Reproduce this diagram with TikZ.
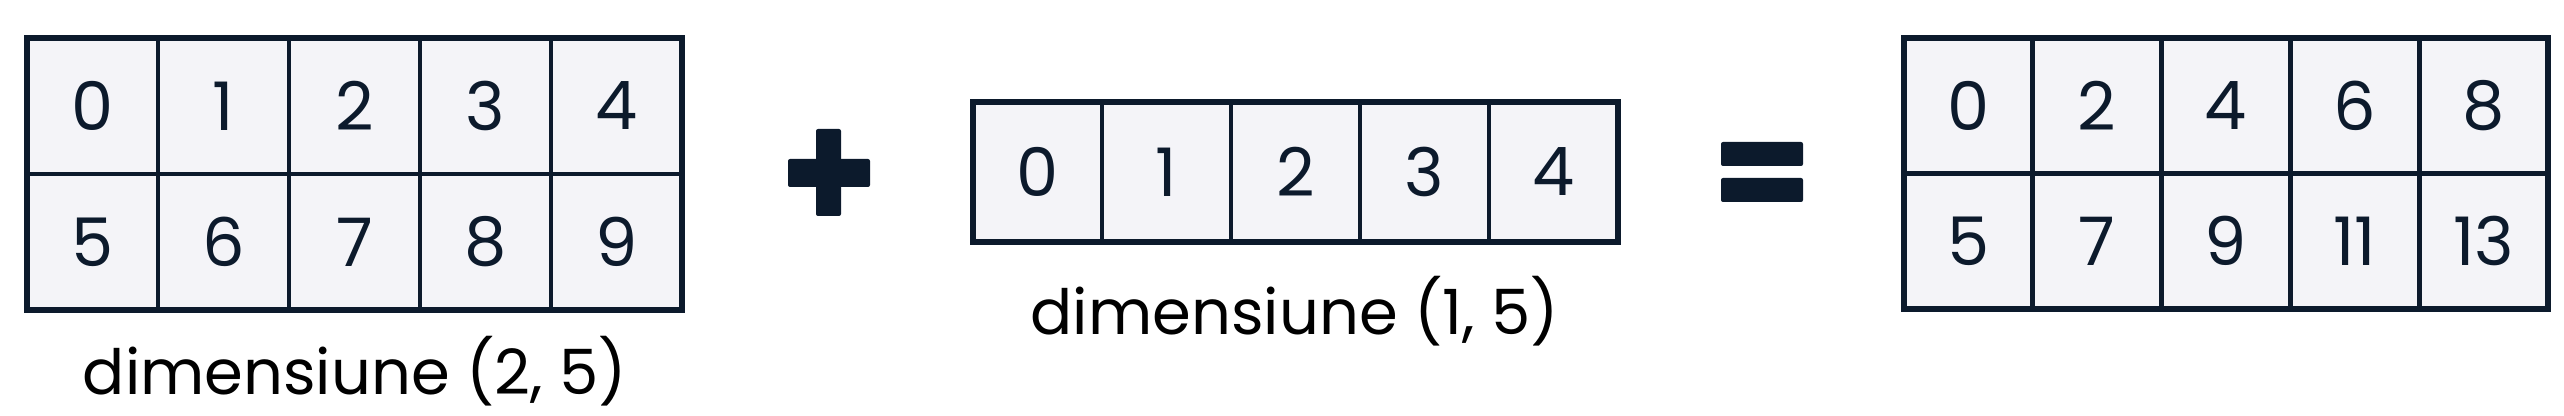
\documentclass[tikz,border=0pt]{standalone}
\usepackage{fontspec}
\setmainfont{Poppins}
\definecolor{ink}{HTML}{0C1A2C}
\definecolor{cellfill}{HTML}{F4F4F8}
\tikzset{
  cell/.style={draw=ink, fill=cellfill, line width=2.4pt, inner sep=0pt, outer sep=0pt,
    text=ink, font=\fontsize{33.5}{40}\selectfont},
  frame/.style={draw=ink, line width=3.4pt},
  dimlabel/.style={anchor=base, text=black, inner sep=0pt, font=\fontsize{31.2}{36}\selectfont},
  sign/.style={fill=ink, rounded corners=1pt}
}
\begin{document}
\begin{tikzpicture}[x=0.5pt,y=-0.5pt]
\useasboundingbox (0,0) rectangle (2564,416);
% left grid (2,5)
\foreach \r in {0,1}{
  \foreach \c in {0,...,4}{
    \pgfmathtruncatemacro\v{5*\r+\c}
    \node[cell, minimum width=65.5pt, minimum height=68pt] (L\r\c) at (27+131*\c+65.5, 38+136*\r+68) {\v};
  }
}
\draw[frame] (L00.north west) rectangle (L14.south east);
\node[dimlabel] (labL) at (355,395) {dimensiune (2, 5)};
% plus sign
\fill[sign] (788,159) rectangle (870,187);
\fill[sign] (816,129) rectangle (841,216);
% middle grid (1,5)
\foreach \c in {0,...,4}{
  \node[cell, minimum width=64.5pt, minimum height=70pt] (M\c) at (973+129*\c+64.5, 172) {\c};
}
\draw[frame] (M0.north west) rectangle (M4.south east);
\node[dimlabel] (labM) at (1295,335) {dimensiune (1, 5)};
% equals sign
\fill[sign] (1721,142) rectangle (1803,166);
\fill[sign] (1721,178) rectangle (1803,202);
% right grid (result)
\foreach \r in {0,1}{
  \foreach \c in {0,...,4}{
    \pgfmathtruncatemacro\w{\r==0 ? 2*\c : 5+2*\c}
    \node[cell, minimum width=64.4pt, minimum height=67.75pt] (R\r\c) at (1904+128.8*\c+64.4, 38+135.5*\r+67.75) {\w};
  }
}
\draw[frame] (R00.north west) rectangle (R14.south east);
\end{tikzpicture}
\end{document}
